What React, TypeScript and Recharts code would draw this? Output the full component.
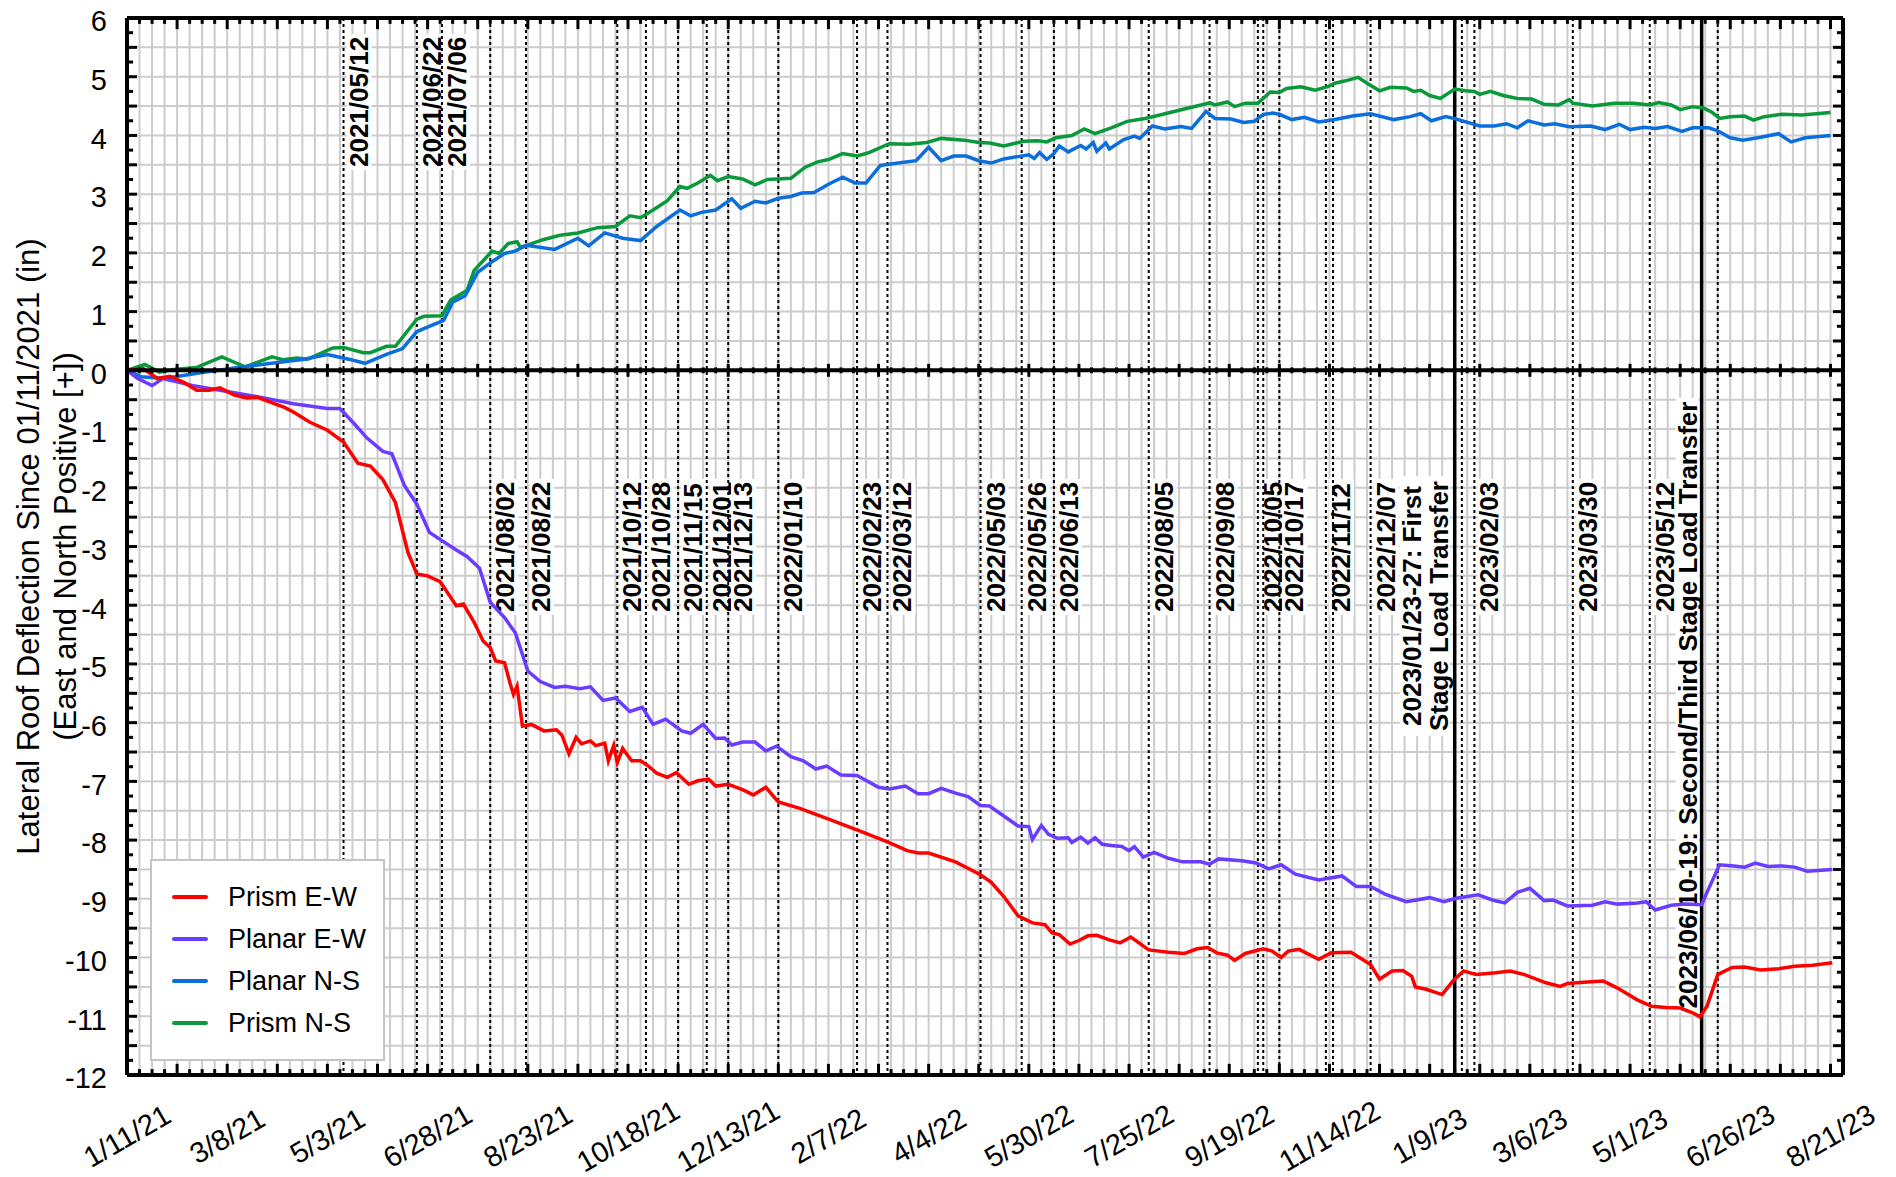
import React from 'react';
import { LineChart, Line, XAxis, YAxis, CartesianGrid, ReferenceLine, Legend } from 'recharts';

const FONT = '"Liberation Sans", Arial, Helvetica, sans-serif';

// x values are days since 2021/01/11
const X_START = '2021/01/11';
const X_END = '2023/08/28';

const xTickLabels = [
  '1/11/21', '3/8/21', '5/3/21', '6/28/21', '8/23/21', '10/18/21', '12/13/21', '2/7/22', '4/4/22',
  '5/30/22', '7/25/22', '9/19/22', '11/14/22', '1/9/23', '3/6/23', '5/1/23', '6/26/23', '8/21/23',
];
const yTicks = [-12, -11, -10, -9, -8, -7, -6, -5, -4, -3, -2, -1, 0, 1, 2, 3, 4, 5, 6];
const yTitleLines = ['Lateral Roof Deflection Since 01/11/2021 (in)', '(East and North Positive [+])'];

// [day, inches]
const prismEW = [
  [0, 0], [9, 0.03], [17, -0.14], [24, -0.1], [32, -0.21], [39, -0.34], [46, -0.34], [52, -0.3], [60, -0.42],
  [67, -0.47], [73, -0.46], [80, -0.54], [88, -0.63], [93, -0.71], [102, -0.88], [112, -1.02], [121, -1.22],
  [129, -1.58], [136, -1.63], [143, -1.86], [150, -2.25], [157, -3.1], [162, -3.47], [168, -3.5], [175, -3.6],
  [179, -3.78], [184, -4.01], [188, -3.98], [194, -4.29], [199, -4.61], [203, -4.72], [206, -4.95], [211, -4.98],
  [214, -5.32], [216, -5.52], [218, -5.38], [221, -6.06], [226, -6.03], [233, -6.14], [240, -6.12], [243, -6.21],
  [247, -6.53], [251, -6.25], [254, -6.36], [259, -6.31], [262, -6.39], [267, -6.35], [269, -6.65], [272, -6.39],
  [274, -6.68], [277, -6.44], [282, -6.65], [287, -6.65], [291, -6.73], [296, -6.86], [302, -6.93], [307, -6.85],
  [314, -7.05], [319, -6.99], [325, -6.96], [329, -7.08], [336, -7.05], [344, -7.14], [350, -7.23], [357, -7.1],
  [364, -7.35], [376, -7.46], [391, -7.63], [409, -7.84], [425, -8.03], [436, -8.18], [442, -8.22], [448, -8.22],
  [463, -8.37], [477, -8.59], [483, -8.72], [490, -8.96], [498, -9.29], [506, -9.41], [513, -9.44], [517, -9.58],
  [521, -9.61], [527, -9.77], [532, -9.71], [537, -9.63], [542, -9.62], [549, -9.7], [555, -9.75], [561, -9.65],
  [571, -9.87], [582, -9.91], [591, -9.93], [598, -9.85], [604, -9.83], [609, -9.92], [615, -9.96], [619, -10.05],
  [625, -9.93], [635, -9.85], [640, -9.89], [645, -10.0], [649, -9.89], [655, -9.86], [666, -10.03], [673, -9.92],
  [684, -9.91], [695, -10.12], [700, -10.37], [707, -10.23], [713, -10.22], [718, -10.32], [720, -10.5],
  [726, -10.54], [735, -10.63], [741, -10.4], [747, -10.23], [754, -10.29], [765, -10.26], [773, -10.23],
  [781, -10.29], [793, -10.43], [801, -10.49], [805, -10.44], [814, -10.42], [825, -10.4], [833, -10.52],
  [844, -10.72], [852, -10.83], [860, -10.85], [868, -10.86], [875, -10.94], [879, -11.01], [883, -10.83],
  [889, -10.29], [897, -10.17], [904, -10.16], [913, -10.21], [923, -10.19], [932, -10.15], [942, -10.13],
  [953, -10.09],
];

const planarEW = [
  [0, 0], [6, -0.14], [14, -0.26], [20, -0.14], [37, -0.26], [56, -0.36], [75, -0.46], [93, -0.57], [112, -0.65],
  [119, -0.65], [127, -0.91], [134, -1.15], [143, -1.38], [148, -1.42], [155, -1.96], [162, -2.28], [169, -2.76],
  [176, -2.9], [184, -3.06], [190, -3.17], [197, -3.37], [203, -3.95], [211, -4.21], [217, -4.47], [224, -5.12],
  [231, -5.3], [239, -5.4], [245, -5.38], [253, -5.42], [259, -5.39], [266, -5.62], [273, -5.58], [281, -5.81],
  [288, -5.74], [294, -6.03], [301, -5.94], [310, -6.14], [315, -6.18], [322, -6.03], [329, -6.27], [334, -6.26],
  [338, -6.38], [344, -6.33], [351, -6.33], [357, -6.48], [363, -6.4], [371, -6.58], [378, -6.65], [385, -6.79],
  [391, -6.74], [399, -6.89], [408, -6.9], [420, -7.1], [426, -7.13], [435, -7.08], [442, -7.21], [448, -7.21],
  [455, -7.12], [463, -7.2], [470, -7.26], [477, -7.41], [482, -7.42], [490, -7.59], [498, -7.76], [504, -7.77],
  [506, -7.99], [511, -7.75], [515, -7.9], [520, -7.97], [526, -7.96], [528, -8.04], [533, -7.95], [537, -8.05],
  [541, -7.96], [545, -8.07], [550, -8.09], [556, -8.11], [560, -8.18], [563, -8.11], [568, -8.29], [574, -8.21],
  [582, -8.31], [590, -8.37], [600, -8.37], [605, -8.41], [610, -8.32], [623, -8.35], [631, -8.39], [638, -8.49],
  [645, -8.42], [653, -8.58], [666, -8.68], [679, -8.61], [687, -8.79], [695, -8.79], [703, -8.92], [715, -9.05],
  [728, -8.98], [736, -9.05], [743, -8.99], [755, -8.93], [763, -9.02], [770, -9.07], [777, -8.89], [784, -8.82],
  [792, -9.03], [797, -9.02], [805, -9.12], [819, -9.11], [826, -9.05], [833, -9.09], [844, -9.07], [849, -9.05],
  [854, -9.19], [863, -9.11], [871, -9.09], [880, -9.1], [883, -8.89], [890, -8.42], [898, -8.44], [904, -8.46],
  [910, -8.39], [917, -8.45], [925, -8.44], [932, -8.46], [939, -8.53], [953, -8.5],
];

const planarNS = [
  [0, 0], [8, -0.11], [21, -0.14], [41, -0.04], [62, 0.05], [83, 0.13], [99, 0.19], [112, 0.27], [124, 0.19],
  [133, 0.12], [145, 0.27], [154, 0.37], [162, 0.66], [177, 0.85], [182, 1.16], [189, 1.27], [196, 1.67],
  [204, 1.85], [211, 1.99], [217, 2.03], [223, 2.13], [239, 2.06], [252, 2.25], [258, 2.12], [267, 2.34],
  [277, 2.25], [287, 2.21], [296, 2.45], [309, 2.73], [315, 2.63], [321, 2.69], [329, 2.73], [338, 2.92],
  [343, 2.76], [351, 2.88], [357, 2.85], [364, 2.93], [371, 2.96], [377, 3.02], [384, 3.03], [392, 3.17],
  [400, 3.29], [407, 3.19], [413, 3.19], [421, 3.49], [431, 3.53], [441, 3.57], [448, 3.8], [455, 3.57],
  [462, 3.65], [469, 3.65], [476, 3.57], [483, 3.53], [490, 3.6], [504, 3.67], [507, 3.61], [510, 3.71],
  [514, 3.59], [518, 3.69], [521, 3.82], [526, 3.72], [533, 3.83], [536, 3.77], [540, 3.88], [542, 3.73],
  [547, 3.87], [549, 3.77], [557, 3.93], [563, 3.99], [566, 3.95], [573, 4.16], [580, 4.11], [589, 4.15],
  [595, 4.12], [603, 4.41], [608, 4.29], [617, 4.28], [624, 4.22], [630, 4.24], [635, 4.36], [640, 4.38],
  [644, 4.36], [651, 4.27], [658, 4.31], [666, 4.23], [675, 4.27], [685, 4.33], [695, 4.37], [708, 4.27],
  [717, 4.32], [723, 4.37], [729, 4.25], [737, 4.32], [744, 4.27], [756, 4.16], [764, 4.16], [771, 4.2],
  [777, 4.13], [783, 4.25], [792, 4.18], [798, 4.2], [806, 4.15], [818, 4.16], [826, 4.1], [834, 4.19],
  [840, 4.1], [848, 4.14], [854, 4.12], [861, 4.15], [869, 4.07], [875, 4.13], [884, 4.13], [889, 4.08],
  [896, 3.96], [903, 3.92], [913, 3.97], [923, 4.03], [930, 3.89], [938, 3.96], [952, 4.0],
];

const prismNS = [
  [0, 0], [10, 0.1], [18, -0.03], [27, 0.02], [39, 0.05], [53, 0.23], [66, 0.06], [81, 0.23], [87, 0.18],
  [95, 0.21], [101, 0.19], [115, 0.38], [121, 0.39], [132, 0.3], [136, 0.3], [145, 0.41], [150, 0.41],
  [162, 0.87], [166, 0.92], [176, 0.93], [181, 1.2], [190, 1.36], [194, 1.7], [204, 2.03], [208, 1.99],
  [213, 2.16], [218, 2.19], [220, 2.09], [232, 2.22], [242, 2.3], [252, 2.34], [263, 2.43], [273, 2.45],
  [281, 2.63], [287, 2.6], [294, 2.73], [302, 2.89], [309, 3.13], [313, 3.1], [319, 3.19], [326, 3.32],
  [330, 3.23], [336, 3.3], [344, 3.26], [351, 3.16], [358, 3.25], [371, 3.27], [379, 3.46], [386, 3.55],
  [392, 3.59], [400, 3.69], [408, 3.65], [414, 3.7], [426, 3.86], [437, 3.85], [447, 3.88], [455, 3.95],
  [468, 3.92], [476, 3.88], [482, 3.87], [490, 3.82], [501, 3.9], [509, 3.91], [514, 3.89], [519, 3.96],
  [528, 4.0], [535, 4.11], [541, 4.03], [550, 4.13], [559, 4.24], [569, 4.29], [579, 4.36], [592, 4.46],
  [602, 4.53], [605, 4.56], [608, 4.52], [615, 4.57], [619, 4.49], [625, 4.55], [632, 4.55], [639, 4.74],
  [644, 4.73], [648, 4.8], [656, 4.83], [664, 4.77], [671, 4.83], [675, 4.89], [681, 4.93], [688, 4.99],
  [693, 4.89], [700, 4.76], [706, 4.82], [715, 4.81], [719, 4.75], [723, 4.77], [728, 4.68], [734, 4.63],
  [742, 4.79], [748, 4.76], [753, 4.75], [756, 4.7], [762, 4.75], [769, 4.68], [777, 4.63], [785, 4.62],
  [792, 4.53], [800, 4.52], [806, 4.61], [808, 4.55], [819, 4.5], [831, 4.55], [842, 4.55], [851, 4.52],
  [856, 4.56], [863, 4.52], [868, 4.44], [875, 4.49], [881, 4.47], [886, 4.39], [890, 4.29], [896, 4.32],
  [904, 4.33], [909, 4.26], [915, 4.32], [925, 4.36], [936, 4.35], [944, 4.37], [952, 4.39],
];

const upperEventDates = ['2021/05/12', '2021/06/22', '2021/07/06'];
const lowerEventDates = [
  '2021/08/02', '2021/08/22', '2021/10/12', '2021/10/28', '2021/11/15', '2021/12/01', '2021/12/13', '2022/01/10',
  '2022/02/23', '2022/03/12', '2022/05/03', '2022/05/26', '2022/06/13', '2022/08/05', '2022/09/08', '2022/10/05',
  '2022/10/17', '2022/11/12', '2022/12/07', '2023/02/03', '2023/03/30', '2023/05/12',
];
const unlabeledEventDates = ['2022/10/08', '2022/11/16', '2023/01/27', '2023/06/19'];
const firstTransfer = { date: '2023/01/23', lines: ['2023/01/23-27: First', 'Stage Load Transfer'] };
const secondTransfer = { date: '2023/06/10', lines: ['2023/06/10-19: Second/Third Stage Load Transfer'] };

const seriesOrder = ['Prism E-W', 'Planar E-W', 'Planar N-S', 'Prism N-S'];

const DAY_MS = 86400000;
const startMs = (() => {
  const [y, m, d] = X_START.split('/').map(Number);
  return Date.UTC(y, m - 1, d);
})();

function dayOf(s: string) {
  const [y, m, d] = s.split('/').map(Number);
  return Math.round((Date.UTC(y, m - 1, d) - startMs) / DAY_MS);
}

function dayOfTick(s: string) {
  const [m, d, y] = s.split('/').map(Number);
  return Math.round((Date.UTC(2000 + y, m - 1, d) - startMs) / DAY_MS);
}

const xMax = dayOf(X_END);
const xTickDays = xTickLabels.map(dayOfTick);

const toPoints = (rows: number[][]) => rows.map(([d, v]) => ({ d, v }));

function boldWidth(s: string, size: number) {
  let w = 0;
  for (const c of s) {
    if (/[0-9]/.test(c)) w += 0.556;
    else if (c === '/' || c === ' ' || c === 'i' || c === 'l') w += 0.278;
    else if (c === '-' || c === ':' || c === 't' || c === 'f') w += 0.333;
    else if (c === 'r') w += 0.389;
    else if (/[A-Z]/.test(c)) w += 0.65;
    else w += 0.58;
  }
  return w * size;
}

const LABEL_SIZE = 26;

// dotted event line with a rotated date label to its right
const dateShape = (label: string | null, bottomRel: number) => (p: any) => {
  const x = p.x1;
  const top = Math.min(p.y1, p.y2);
  const bottom = Math.max(p.y1, p.y2);
  const bx = x + 24;
  const by = top + bottomRel;
  const len = label ? boldWidth(label, LABEL_SIZE) : 0;
  return (
    <g>
      {label && <rect x={bx - 21} y={by - len - 3} width={25} height={len + 6} fill="#fff" />}
      {label && (
        <text x={bx} y={by} transform={`rotate(-90 ${bx} ${by})`} fontSize={LABEL_SIZE} fontWeight="bold"
          fontFamily={FONT} fill="#000">{label}</text>
      )}
      <line x1={x} y1={top} x2={x} y2={bottom} stroke="#000" strokeWidth={2} strokeDasharray="3 3" />
    </g>
  );
};

// solid load-transfer line with label lines to its left
const transferShape = (lines: string[], offsets: number[], centerRel: number) => (p: any) => {
  const x = p.x1;
  const top = Math.min(p.y1, p.y2);
  const bottom = Math.max(p.y1, p.y2);
  const cy = top + centerRel;
  const len = Math.max(...lines.map((l) => boldWidth(l, LABEL_SIZE)));
  const left = x + Math.min(...offsets) - 21;
  const right = x + Math.max(...offsets) + 2;
  return (
    <g>
      <rect x={left} y={cy - len / 2 - 3} width={right - left} height={len + 6} fill="#fff" />
      {lines.map((l, i) => {
        const bx = x + offsets[i];
        return (
          <text key={l} x={bx} y={cy} textAnchor="middle" transform={`rotate(-90 ${bx} ${cy})`}
            fontSize={LABEL_SIZE} fontWeight="bold" fontFamily={FONT} fill="#000">{l}</text>
        );
      })}
      <line x1={x} y1={top} x2={x} y2={bottom} stroke="#000" strokeWidth={3.5} />
    </g>
  );
};

const XTick = (props: any) => {
  const { x, y, payload } = props;
  const i = xTickDays.indexOf(payload.value);
  const cy = y + 61;
  return (
    <text x={x} y={cy} textAnchor="middle" dominantBaseline="central" transform={`rotate(-30 ${x} ${cy})`}
      fontSize={29} fontFamily={FONT} fill="#000">
      {xTickLabels[i]}
    </text>
  );
};

const renderYTitle = (props: any) => {
  const vb = props.viewBox || { x: 0, y: 18, width: 119, height: 1057 };
  const cy = vb.y + vb.height / 2;
  const x1 = vb.x + 20;
  const x2 = vb.x + 57;
  return (
    <g>
      <text x={x1} y={cy} transform={`rotate(-90 ${x1} ${cy})`} textAnchor="middle" dominantBaseline="central"
        fontSize={31} fontFamily={FONT} fill="#000">{yTitleLines[0]}</text>
      <text x={x2} y={cy} transform={`rotate(-90 ${x2} ${cy})`} textAnchor="middle" dominantBaseline="central"
        fontSize={31} fontFamily={FONT} fill="#000">{yTitleLines[1]}</text>
    </g>
  );
};

const renderLegend = (props: any) => {
  const items = [...(props.payload || [])].sort(
    (a: any, b: any) => seriesOrder.indexOf(a.value) - seriesOrder.indexOf(b.value),
  );
  return (
    <div style={{
      width: 235, height: 202, boxSizing: 'border-box', border: '2px solid #c4c4c4', background: '#fff',
      paddingTop: 15,
    }}>
      {items.map((it: any) => (
        <div key={it.value} style={{ display: 'flex', alignItems: 'center', height: 42 }}>
          <div style={{ width: 36, height: 4, background: it.color, marginLeft: 20, borderRadius: 2 }} />
          <span style={{ marginLeft: 20, fontSize: 27, lineHeight: 1, color: '#000', fontFamily: FONT }}>
            {it.value}
          </span>
        </div>
      ))}
    </div>
  );
};

export default function App() {
  const weekDays = Array.from({ length: Math.floor(xMax / 7) }, (_, i) => (i + 1) * 7).filter((d) => d < xMax);
  const halfSteps = Array.from({ length: 35 }, (_, i) => -11.5 + i * 0.5);
  const quarterSteps = Array.from({ length: 71 }, (_, i) => -11.75 + i * 0.25);

  const events = [
    ...upperEventDates.map((s) => ({ day: dayOf(s), shape: dateShape(s, 149) })),
    ...lowerEventDates.map((s) => ({ day: dayOf(s), shape: dateShape(s, 594) })),
    ...unlabeledEventDates.map((s) => ({ day: dayOf(s), shape: dateShape(null, 0) })),
    { day: dayOf(firstTransfer.date), shape: transferShape(firstTransfer.lines, [-34, -7], 588) },
    { day: dayOf(secondTransfer.date), shape: transferShape(secondTransfer.lines, [-5], 687) },
  ].sort((a, b) => a.day - b.day);

  const tickStroke = { stroke: '#000', strokeWidth: 3, ifOverflow: 'visible' as const };

  return (
    <div style={{ width: 1880, height: 1177, marginTop: -8, fontFamily: FONT }}>
      <LineChart width={1880} height={1177} margin={{ top: 18, right: 45, bottom: 0, left: 0 }}
        style={{ overflow: 'visible' }}>
        <CartesianGrid stroke="#cccccc" strokeWidth={2} verticalValues={weekDays} horizontalValues={halfSteps} />
        <XAxis dataKey="d" type="number" domain={[0, xMax]} ticks={xTickDays} interval={0} allowDataOverflow
          tickLine={false} axisLine={false} tickSize={0} tickMargin={0} height={102} tick={<XTick />} />
        <YAxis type="number" domain={[-12, 6]} ticks={yTicks} interval={0} allowDataOverflow width={119}
          tickLine={false} axisLine={false} tickSize={0} tickMargin={20}
          tick={{ fontSize: 29, fill: '#000', fontFamily: FONT, dy: 3 }} label={renderYTitle} />

        {events.map((e) => (
          <ReferenceLine key={`ev-${e.day}`} x={e.day} stroke="#000" ifOverflow="visible" zIndex={-50}
            shape={e.shape} />
        ))}

        <Line data={toPoints(prismNS)} dataKey="v" name="Prism N-S" type="linear" stroke="#0a993a"
          strokeWidth={3.5} dot={false} activeDot={false} isAnimationActive={false} />
        <Line data={toPoints(planarNS)} dataKey="v" name="Planar N-S" type="linear" stroke="#0a6fdc"
          strokeWidth={3.5} dot={false} activeDot={false} isAnimationActive={false} />
        <Line data={toPoints(planarEW)} dataKey="v" name="Planar E-W" type="linear" stroke="#6a3cff"
          strokeWidth={3.5} dot={false} activeDot={false} isAnimationActive={false} />
        <Line data={toPoints(prismEW)} dataKey="v" name="Prism E-W" type="linear" stroke="#ff0000"
          strokeWidth={3.5} dot={false} activeDot={false} isAnimationActive={false} />

        {weekDays.map((d) => {
          const major = d % 28 === 0;
          const len = major ? 0.19 : 0.1;
          const z = major ? 0.11 : 0.05;
          return (
            <React.Fragment key={`wt-${d}`}>
              <ReferenceLine segment={[{ x: d, y: 6 }, { x: d, y: 6 - len }]} {...tickStroke} />
              <ReferenceLine segment={[{ x: d, y: -12 }, { x: d, y: -12 + len }]} {...tickStroke} />
              <ReferenceLine segment={[{ x: d, y: -z }, { x: d, y: z }]} {...tickStroke} />
            </React.Fragment>
          );
        })}
        {quarterSteps.map((v) => {
          const len = Math.abs(v * 2 - Math.round(v * 2)) < 1e-6 ? 5.6 : 3.4;
          return (
            <React.Fragment key={`yt-${v}`}>
              <ReferenceLine segment={[{ x: 0, y: v }, { x: len, y: v }]} {...tickStroke} />
              <ReferenceLine segment={[{ x: xMax, y: v }, { x: xMax - len, y: v }]} {...tickStroke} />
            </React.Fragment>
          );
        })}

        <ReferenceLine y={0} stroke="#000" strokeWidth={4} ifOverflow="visible" />
        <ReferenceLine y={6} stroke="#000" strokeWidth={4} ifOverflow="visible" />
        <ReferenceLine y={-12} stroke="#000" strokeWidth={4} ifOverflow="visible" />
        <ReferenceLine x={0} stroke="#000" strokeWidth={4} ifOverflow="visible" />
        <ReferenceLine x={xMax} stroke="#000" strokeWidth={4} ifOverflow="visible" />

        <Legend layout="vertical" align="center" verticalAlign="middle" content={renderLegend}
          wrapperStyle={{ left: 142, top: 859, width: 235, height: 202 }} />
      </LineChart>
    </div>
  );
}
